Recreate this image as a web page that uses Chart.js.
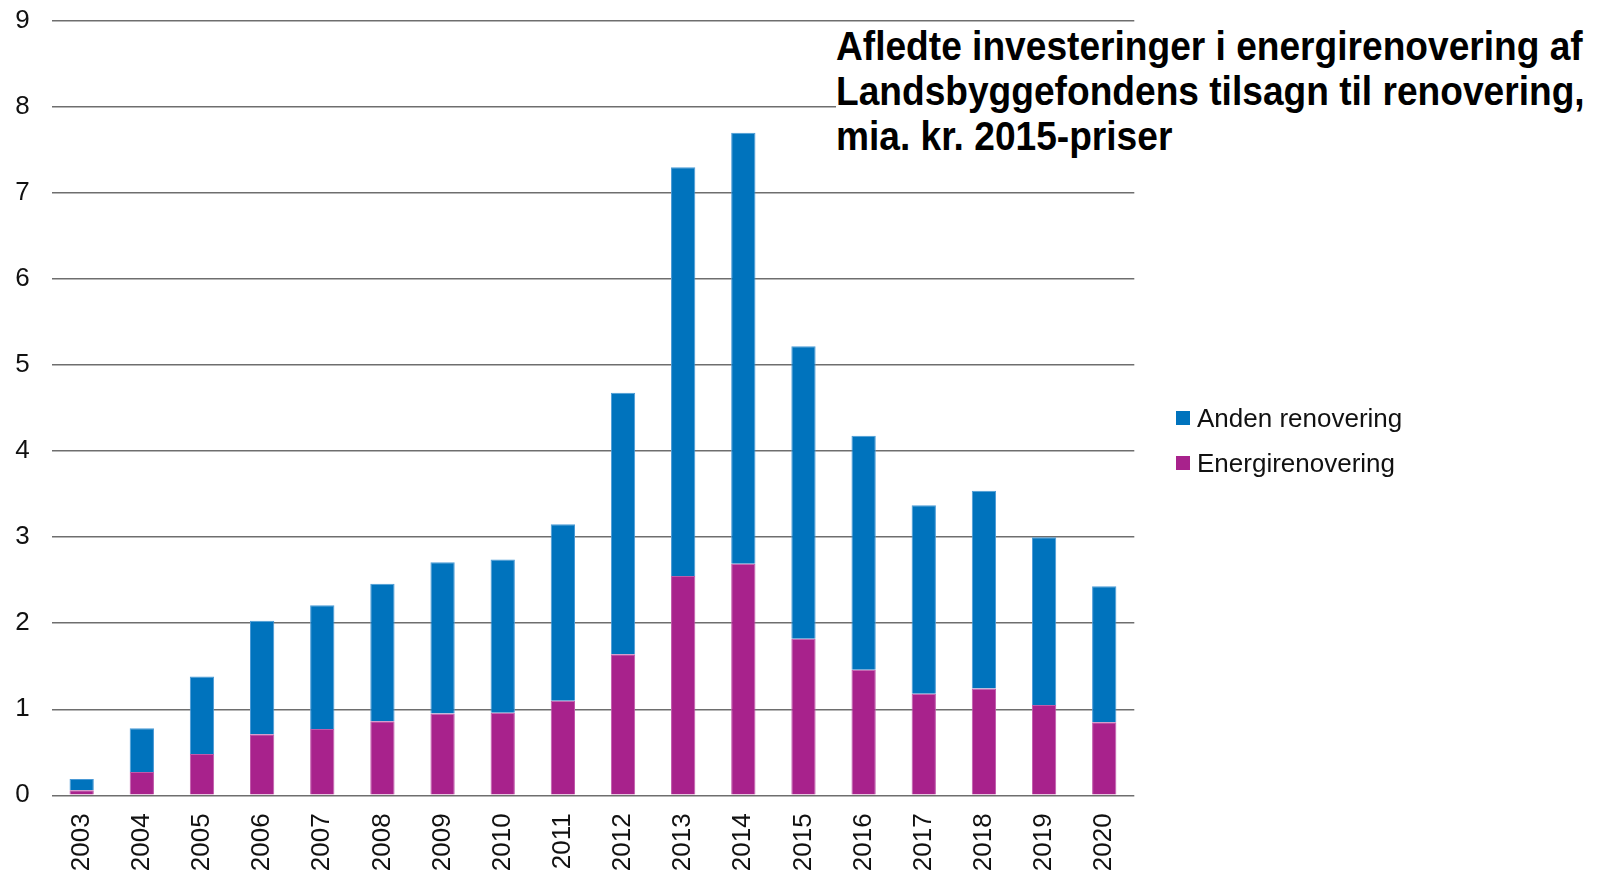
<!DOCTYPE html>
<html lang="da">
<head>
<meta charset="utf-8">
<title>Afledte investeringer i energirenovering</title>
<script src="https://cdn.jsdelivr.net/npm/chart.js@4.4.1/dist/chart.umd.min.js"></script>
<style>
    html, body { margin: 0; padding: 0; background: #fff; }
    #wrap { position: relative; width: 1598px; height: 872px; }
    #title {
        position: absolute; left: 836px; top: 24px; width: 762px;
        background: #fff; color: #000;
        font: bold 40px/45px "Liberation Sans Narrow", "Liberation Sans", Arial, sans-serif;
    }
    #title span { display: inline-block; white-space: nowrap; transform-origin: 0 0; }
    #legend {
        position: absolute; left: 1176px; top: 403px; color: #111;
        font: 26px "Liberation Sans", Arial, sans-serif;
    }
    .item { display: flex; align-items: center; height: 30px; margin-bottom: 15px; }
    .box { width: 14px; height: 14px; margin-right: 7px; }
</style>
</head>
<body>
<div id="wrap">
    <canvas id="investChart"></canvas>
    <div id="title">
        <div><span>Afledte investeringer i energirenovering af</span></div>
        <div><span>Landsbyggefondens tilsagn til renovering,</span></div>
        <div><span>mia. kr. 2015-priser</span></div>
    </div>
    <div id="legend"></div>
</div>
<script>
// årstal
const years = ['2003', '2004', '2005', '2006', '2007', '2008', '2009', '2010', '2011',
               '2012', '2013', '2014', '2015', '2016', '2017', '2018', '2019', '2020'];

// mia. kr.
const energirenovering = [0.06, 0.27, 0.48, 0.71, 0.77, 0.86, 0.95, 0.96, 1.10,
                          1.64, 2.55, 2.69, 1.82, 1.46, 1.18, 1.24, 1.05, 0.85];
const andenRenovering = [0.13, 0.51, 0.90, 1.32, 1.44, 1.60, 1.76, 1.78, 2.05,
                         3.04, 4.75, 5.01, 3.40, 2.72, 2.19, 2.30, 1.95, 1.58];

const yTicks = [0, 1, 2, 3, 4, 5, 6, 7, 8, 9];

Chart.defaults.font.family = '"Liberation Sans", Arial, sans-serif';
Chart.defaults.color = '#111';

const canvas = document.getElementById('investChart');
canvas.width = 1598;
canvas.height = 872;

const investChart = new Chart(canvas, {
    type: 'bar',
    data: {
        labels: years,
        datasets: [{
            label: 'Energirenovering',
            data: energirenovering,
            backgroundColor: '#a8228c',
            borderColor: '#c05aaa',
            borderWidth: 1
        }, {
            label: 'Anden renovering',
            data: andenRenovering,
            backgroundColor: '#0073bd',
            borderColor: '#4a9ad6',
            borderWidth: 1
        }]
    },
    options: {
        responsive: false,
        animation: false,
        layout: {
            padding: { top: 21, right: 463.7, left: 0, bottom: 0 }
        },
        datasets: {
            bar: { categoryPercentage: 0.8, barPercentage: 0.505 }
        },
        plugins: {
            legend: { display: false },
            tooltip: { enabled: false }
        },
        scales: {
            x: {
                stacked: true,
                grid: { display: false },
                border: { display: false },
                ticks: {
                    font: { size: 26 },
                    color: '#111',
                    minRotation: 90,
                    maxRotation: 90,
                    padding: 10
                },
                afterFit: function(scale) { scale.height = 76.7; }
            },
            y: {
                stacked: true,
                min: 0,
                max: 9,
                afterBuildTicks: function(scale) {
                    scale.ticks = yTicks.map(v => ({ value: v }));
                },
                grid: { color: '#6e6e6e', lineWidth: 1.5, drawTicks: false },
                border: { display: false },
                ticks: {
                    font: { size: 26 },
                    color: '#111',
                    padding: 22
                },
                afterFit: function(scale) {
                    scale.width = 51.6;
                    scale.paddingTop = 0;
                    scale.paddingBottom = 0;
                }
            }
        }
    }
});

// forklaring (omvendt rækkefølge, som i figuren)
const legend = document.getElementById('legend');
investChart.data.datasets.slice().reverse().forEach(function(ds) {
    const item = document.createElement('div');
    item.className = 'item';
    const box = document.createElement('div');
    box.className = 'box';
    box.style.background = ds.backgroundColor;
    const txt = document.createElement('span');
    txt.textContent = ds.label;
    item.appendChild(box);
    item.appendChild(txt);
    legend.appendChild(item);
});

// titlen er smal: tilpas bredden
const spans = document.querySelectorAll('#title span');
const s = 747 / spans[0].offsetWidth;
spans.forEach(function(sp) { sp.style.transform = 'scaleX(' + s + ')'; });
</script>
</body>
</html>
